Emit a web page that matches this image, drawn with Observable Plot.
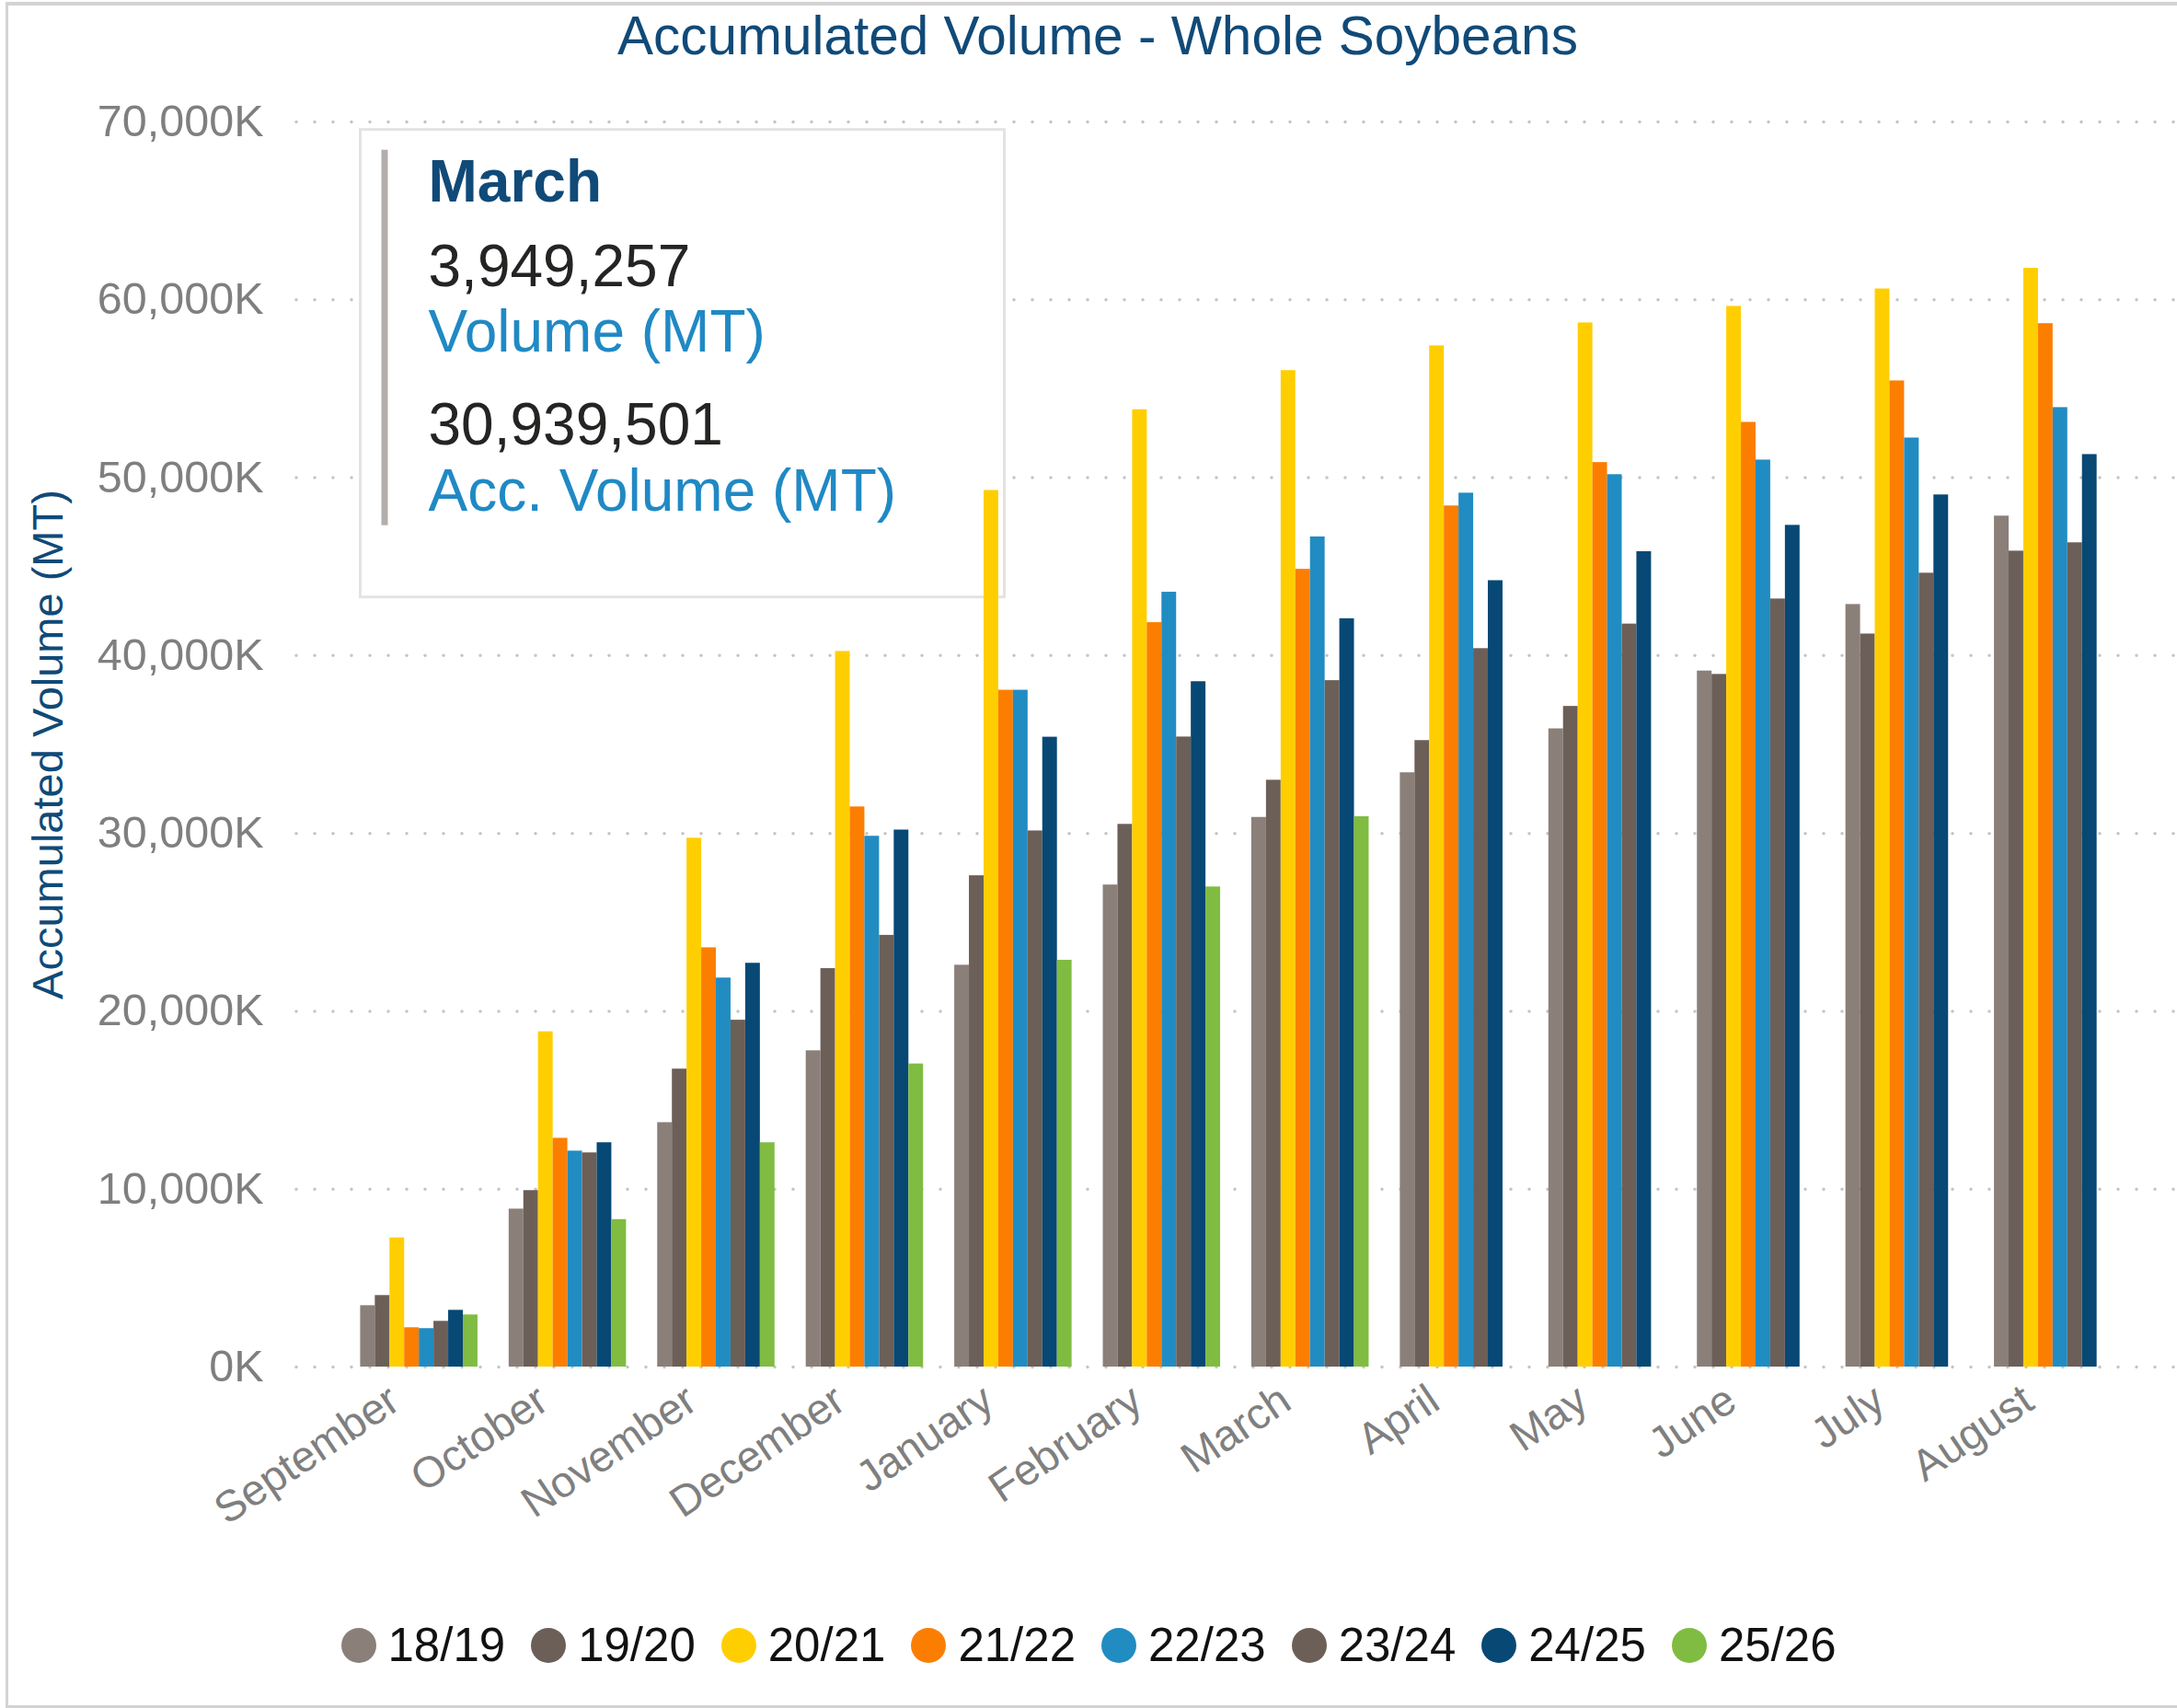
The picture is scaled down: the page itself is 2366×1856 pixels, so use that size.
<!DOCTYPE html>
<html>
<head>
<meta charset="utf-8">
<script src="https://cdn.jsdelivr.net/npm/d3@7"></script>
<script src="https://cdn.jsdelivr.net/npm/@observablehq/plot@0.6"></script>
<style>
html, body { margin: 0; padding: 0; background: #fff; overflow: hidden; }
body { width: 2366px; height: 1856px; position: relative; font-family: "Liberation Sans", Arial, Helvetica, sans-serif; }
#frame { position: absolute; left: 6px; top: 2px; width: 2420px; height: 1854px; border: 3px solid #d3d3d3; border-top-width: 4px; border-right: none; box-sizing: border-box; pointer-events: none; }
#title { height: 77px; line-height: 77px; text-align: center; font-size: 58.5px; color: #104A78; padding-left: 20px; white-space: nowrap; }
#chart svg { display: block; }
#legend { position: absolute; left: 0; top: 1763px; width: 2366px; height: 50px; display: flex; justify-content: center; align-items: center; }
.item { display: flex; align-items: center; margin-right: 28px; font-size: 51px; color: #111; line-height: 50px; }
.item:last-child { margin-right: 0; }
.dot { width: 38px; height: 38px; border-radius: 50%; margin-right: 13px; }
</style>
</head>
<body>
<div id="title">Accumulated Volume - Whole Soybeans</div>
<div id="chart"></div>
<div id="legend"></div>
<div id="frame"></div>
<script>
// ---- Data (thousand MT) ----
const months = ["September", "October", "November", "December", "January", "February", "March", "April", "May", "June", "July", "August"];
const seasons = ["18/19", "19/20", "20/21", "21/22", "22/23", "23/24", "24/25", "25/26"];
const seasonColors = ["#8B7F79", "#6C5F57", "#FFCE00", "#FC7E00", "#218CC2", "#6C5F57", "#074875", "#80BC41"];

const s1819 = [3450, 8880, 13740, 17780, 22590, 27100, 30900, 33410, 35880, 39130, 42870, 47840];
const s1920 = [4020, 9920, 16750, 22400, 27620, 30510, 32990, 35220, 37140, 38940, 41210, 45870];
const s2021 = [7260, 18850, 29730, 40230, 49280, 53820, 56020, 57410, 58700, 59630, 60610, 61770];
const s2122 = [2210, 12860, 23570, 31490, 38050, 41850, 44850, 48410, 50850, 53110, 55440, 58660];
const s2223 = [2160, 12140, 21870, 29840, 38050, 43560, 46670, 49130, 50170, 50990, 52230, 53940];
const s2324 = [2570, 12040, 19500, 24270, 30140, 35420, 38590, 40390, 41770, 43180, 44630, 46340];
const s2425 = [3190, 12610, 22700, 30190, 35410, 38530, 42070, 44210, 45840, 47320, 49030, 51300];
const s2526 = [2930, 8290, 12610, 17040, 22870, 26990, 30940, null, null, null, null, null];

const yTicks = [0, 10000, 20000, 30000, 40000, 50000, 60000, 70000];
const yLabel = "Accumulated Volume (MT)";

const tipMonth = "March";
const tipVolume = 3949257;
const tipAccVolume = 30939501;
const tipVolumeLabel = "Volume (MT)";
const tipAccLabel = "Acc. Volume (MT)";

// ---- Table ----
const seriesValues = [s1819, s1920, s2021, s2122, s2223, s2324, s2425, s2526];
const rows = [];
seriesValues.forEach((vals, s) => {
  vals.forEach((v, m) => {
    if (v != null) rows.push({month: months[m], m, season: seasons[s], s, value: v});
  });
});

// band layout in "month" units
const innerPad = 0.21, outerPad = 0.43;
const groupWidth = 1 - innerPad;
const barW = groupWidth / seasons.length;

const navy = "#104A78";
const fmt = d3.format(",");

function tooltipMark(index, scales, values, dims) {
  const g = d3.create("svg:g")
    .attr("transform", `translate(${dims.marginLeft + 69.5},${dims.marginTop + 8.7})`);
  g.append("rect").attr("width", 700).attr("height", 508)
    .attr("fill", "#fff").attr("stroke", "#e3e3e3").attr("stroke-width", 3);
  g.append("rect").attr("x", 23).attr("y", 22).attr("width", 7).attr("height", 408).attr("fill", "#b3aeab");
  const line = (y, text, color, weight) => g.append("text")
    .attr("x", 74).attr("y", y).attr("fill", color)
    .attr("text-anchor", "start")
    .attr("font-size", 64).attr("font-weight", weight || "normal")
    .attr("font-family", '"Liberation Sans", Arial, sans-serif')
    .text(text);
  line(78, tipMonth, navy, "bold");
  line(170, fmt(tipVolume), "#252423");
  line(241.5, tipVolumeLabel, "#2089C4");
  line(342, fmt(tipAccVolume), "#252423");
  line(414, tipAccLabel, "#2089C4");
  return g.node();
}

const chart = Plot.plot({
  width: 2366,
  height: 1633,
  marginTop: 55,
  marginBottom: 225,
  marginLeft: 322,
  marginRight: 2,
  style: {fontFamily: '"Liberation Sans", Arial, sans-serif', background: "transparent", overflow: "visible"},
  x: {type: "linear", domain: [-outerPad, months.length - innerPad + outerPad]},
  y: {domain: [0, 70000]},
  color: {domain: seasons, range: seasonColors},
  marks: [
    Plot.gridY(yTicks, {stroke: "#c4c4c4", strokeOpacity: 1, strokeWidth: 3.5, strokeDasharray: "0 20", strokeLinecap: "round"}),
    tooltipMark,
    Plot.rect(rows, {
      x1: d => d.m + d.s * barW,
      x2: d => d.m + (d.s + 1) * barW,
      y1: 0,
      y2: "value",
      fill: "season"
    }),
    Plot.axisY(yTicks, {
      tickSize: 0, tickPadding: 36,
      tickFormat: d => fmt(d) + "K",
      fontSize: 48.5, fill: "#7f7f7f", label: null
    }),
    Plot.axisX(months.map((_, i) => i + groupWidth / 2), {
      tickSize: 0, tickPadding: 16, tickRotate: -34,
      textAnchor: "end", lineAnchor: "top", dx: -37,
      tickFormat: d => months[Math.round(d - groupWidth / 2)],
      fontSize: 47, fill: "#7f7f7f", label: null
    }),
    Plot.text([yLabel], {
      frameAnchor: "left", rotate: -90, dx: -270,
      textAnchor: "middle", lineAnchor: "middle",
      fontSize: 47, fill: navy
    })
  ]
});
document.getElementById("chart").appendChild(chart);

// ---- Legend ----
const legend = d3.select("#legend");
seasons.forEach((s, i) => {
  const item = legend.append("div").attr("class", "item");
  item.append("div").attr("class", "dot").style("background", seasonColors[i]);
  item.append("span").text(s);
});
</script>
</body>
</html>
